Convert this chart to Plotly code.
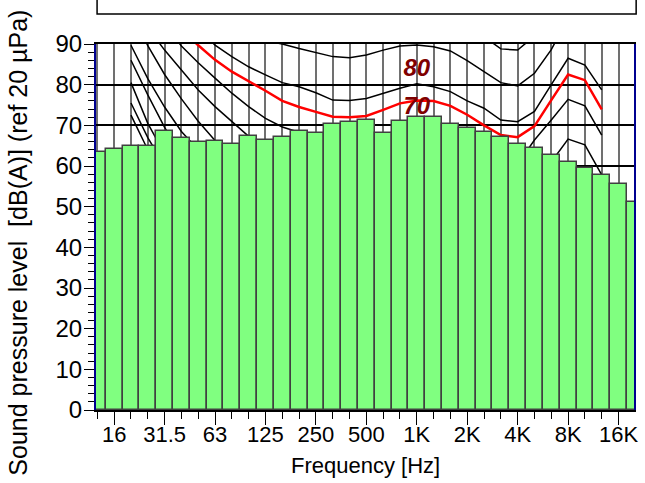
import plotly.graph_objects as go

# 1/3 octave bands, 12.5 Hz .. 20 kHz
bands = ['12.5', '16', '20', '25', '31.5', '40', '50', '63', '80', '100', '125', '160',
         '200', '250', '315', '400', '500', '630', '800', '1K', '1.25K', '1.6K', '2K',
         '2.5K', '3.15K', '4K', '5K', '6.3K', '8K', '10K', '12.5K', '16K', '20K']
levels = [63.5, 64.2, 64.8, 64.8, 68.5, 66.8, 65.8, 66.1, 65.4, 67.4, 66.5, 67.1, 68.7,
          68.1, 70.3, 70.7, 71.4, 68.1, 71.0, 72.0, 72.0, 70.3, 69.4, 68.4, 67.1, 65.4,
          64.5, 62.8, 60.9, 59.6, 57.8, 55.6, 51.1]
tick_labels = ['16', '31.5', '63', '125', '250', '500', '1K', '2K', '4K', '8K', '16K']

# contour bands: 20 Hz .. 12.5 kHz
contour_bands = bands[2:31]
curve_100 = [140, 132, 124, 117, 111, 107, 104, 102, 100.5, 99.5, 98.5, 97.5, 96.7, 96.5, 97.2,
             98.4, 99.4, 99.7, 99.2, 98.2, 95.5, 91.8, 88.8, 88.5, 92, 98.5, 106.5, 104.8, 100.5]
curve_90 = [130, 122, 114, 107, 101, 97, 94, 92, 90.8, 90.0, 88.9, 87.9, 86.9, 86.6, 87.3,
            88.5, 89.5, 89.75, 89.3, 88.3, 85.9, 83.2, 80.5, 79.7, 82.8, 88.6, 96.5, 94.8, 90.5]
curve_80 = [125, 117, 109, 101, 94, 89.7, 86.9, 84.4, 82.4, 80.5, 79.5, 78.0, 76.2, 76.1, 76.6,
            77.9, 79.1, 80.2, 79.5, 78.3, 76.0, 74.2, 71.3, 70.9, 73.4, 80.0, 86.5, 84.8, 78.7]
curve_meas = [112, 104, 98, 93.5, 89.7, 86.1, 83.2, 80.9, 78.5, 76.0, 74.5, 73.3, 72.1, 72.0, 72.3,
              73.8, 75.4, 76.1, 76.0, 74.8, 72.6, 70.0, 67.6, 67.1, 69.8, 76.2, 82.5, 81.1, 73.9]
curve_70 = [105, 100, 95, 89.5, 85.4, 81.6, 77.9, 74.6, 71.7, 69.6, 68.3, 67.2, 66.3, 66.1, 66.6,
            67.5, 69.1, 70.2, 69.5, 68.3, 66.0, 64.0, 61.3, 60.5, 66.4, 71.3, 76.4, 74.8, 67.6]
curve_60 = [100, 94, 88.5, 83.6, 78.7, 74.6, 70.9, 67.3, 64.5, 62, 60, 58.5, 57.5, 57, 57.5,
            58.5, 59.5, 60.2, 59.5, 58.3, 56, 54, 51.5, 50.8, 55.5, 61, 66.6, 65.2, 57.8]
curve_50 = [98, 89.6, 82.5, 76.5, 71, 66.3, 62, 58.5, 55, 52.5, 50.5, 49, 48, 47.5, 48,
            49, 50, 50.2, 49.5, 48.3, 46, 44, 41.5, 40.8, 45.5, 51, 56.6, 55.2, 47.8]
curve_40 = [89.7, 81.5, 74.5, 68.5, 64, 60, 56, 52, 48.5, 45.5, 43, 41, 39.5, 39, 39.5,
            40, 40.5, 40.2, 39.5, 38.3, 36, 34, 31.5, 30.8, 35.5, 41, 46.6, 45.2, 37.8]
curve_30 = [86, 77.5, 69.5, 63, 58, 53.5, 49.5, 45.5, 42, 38.5, 35.5, 33, 31, 30, 30,
            30.3, 30.6, 30.2, 29.5, 28.3, 26, 24, 21.5, 20.8, 25.5, 31, 36.6, 35.2, 27.8]
curve_20 = [80.5, 70.5, 63, 56.5, 51, 46, 41.5, 37, 33, 29.5, 26.5, 24, 22, 21, 20.5,
            20.5, 20.6, 20.2, 19.5, 18.3, 16, 14, 11.5, 10.8, 15.5, 21, 26.6, 25.2, 17.8]
curve_10 = [75.5, 67, 60, 53, 46.5, 40.5, 35, 30, 25.5, 21.5, 18, 15, 13, 11.5, 10.8,
            10.5, 10.6, 10.2, 9.5, 8.3, 6, 4, 1.5, 0.8, 5.5, 11, 16.6, 15.2, 7.8]
curve_0 = [72.5, 64, 56.5, 49, 42, 35.5, 29.5, 24, 19, 14.5, 10.5, 7, 4.5, 2.5, 1.5,
           1, 0.8, 0.5, 0.5, 0.5, 0.5, 0.5, 0.5, 0.5, 0.5, 0.5, 1, 1, 0.5]

black_curves = [curve_100, curve_90, curve_80, curve_70, curve_60, curve_50,
                curve_40, curve_30, curve_20, curve_10, curve_0]
curve_labels = ['80', '70']
curve_label_y = [83.6, 74.2]

pos = {b: i for i, b in enumerate(bands)}
cx = [pos[b] for b in contour_bands]

fig = go.Figure()

for c in black_curves:
    fig.add_trace(go.Scatter(x=cx, y=c, mode='lines', line=dict(color='black', width=1.5),
                             hoverinfo='skip'))
fig.add_trace(go.Scatter(x=cx, y=curve_meas, mode='lines', line=dict(color='#ff0000', width=2.5)))
fig.add_trace(go.Scatter(x=[pos['1K'], pos['1K']], y=curve_label_y, mode='text', text=curve_labels,
                         textfont=dict(family='Arial, Liberation Sans', size=24, color='#7f0000'),
                         texttemplate='<b><i>%{text}</i></b>'))

# bars on an overlaid subplot so they cover the curves, like the original
fig.add_trace(go.Bar(x=list(range(len(bands))), y=levels, width=1, xaxis='x2', yaxis='y2',
                     marker=dict(color='#80ff80', line=dict(color='#404040', width=1.5))))

fig.update_layout(
    width=645, height=483,
    margin=dict(l=96, r=7, t=44, b=73),
    plot_bgcolor='white', paper_bgcolor='white',
    showlegend=False,
    font=dict(family='Arial, Liberation Sans', size=22, color='black'),
    xaxis=dict(range=[-0.08, 31.92], tickvals=[pos[t] for t in tick_labels], ticktext=tick_labels,
               ticks='outside', ticklen=13, tickwidth=1, tickcolor='black', ticklabelstandoff=-9,
               showline=True, linecolor='black', linewidth=2, mirror=True,
               showgrid=True, gridcolor='#707070', gridwidth=1.5, zeroline=False,
               minor=dict(tickvals=list(range(len(bands))), ticks='outside', ticklen=7,
                          tickcolor='black', showgrid=True, gridcolor='#707070', gridwidth=1.5)),
    yaxis=dict(range=[0, 90], tickvals=list(range(0, 91, 10)), ticks='outside', ticklen=10,
               tickfont=dict(size=24), ticklabelstandoff=-3,
               tickcolor='black', showline=True, linecolor='#000090', linewidth=2, mirror=True,
               showgrid=True, gridcolor='black', gridwidth=2, zeroline=False,
               minor=dict(dtick=2, ticks='outside', ticklen=6, tickcolor='black', showgrid=False)),
    xaxis2=dict(overlaying='x', range=[-0.08, 31.92], visible=False),
    yaxis2=dict(overlaying='y', range=[0, 90], visible=False),
    bargap=0,
    shapes=[dict(type='rect', xref='paper', yref='paper', x0=0.002, x1=1.004, y0=1.082, y1=1.13,
                 line=dict(color='black', width=1.5))],
    annotations=[
        dict(text='Sound pressure level\u00a0 [dB(A)] (ref 20 µPa)', textangle=-90,
             xref='paper', yref='paper', x=-0.144, y=0.456, showarrow=False,
             xanchor='center', yanchor='middle', font=dict(size=25)),
        dict(text='Frequency [Hz]', xref='paper', yref='paper', x=0.5, y=-0.153,
             showarrow=False, xanchor='center', yanchor='middle', font=dict(size=22)),
    ],
)

fig.write_html('out.html', config={'displayModeBar': False},
               post_script="document.body.style.margin='0';document.body.style.overflow='hidden';")
